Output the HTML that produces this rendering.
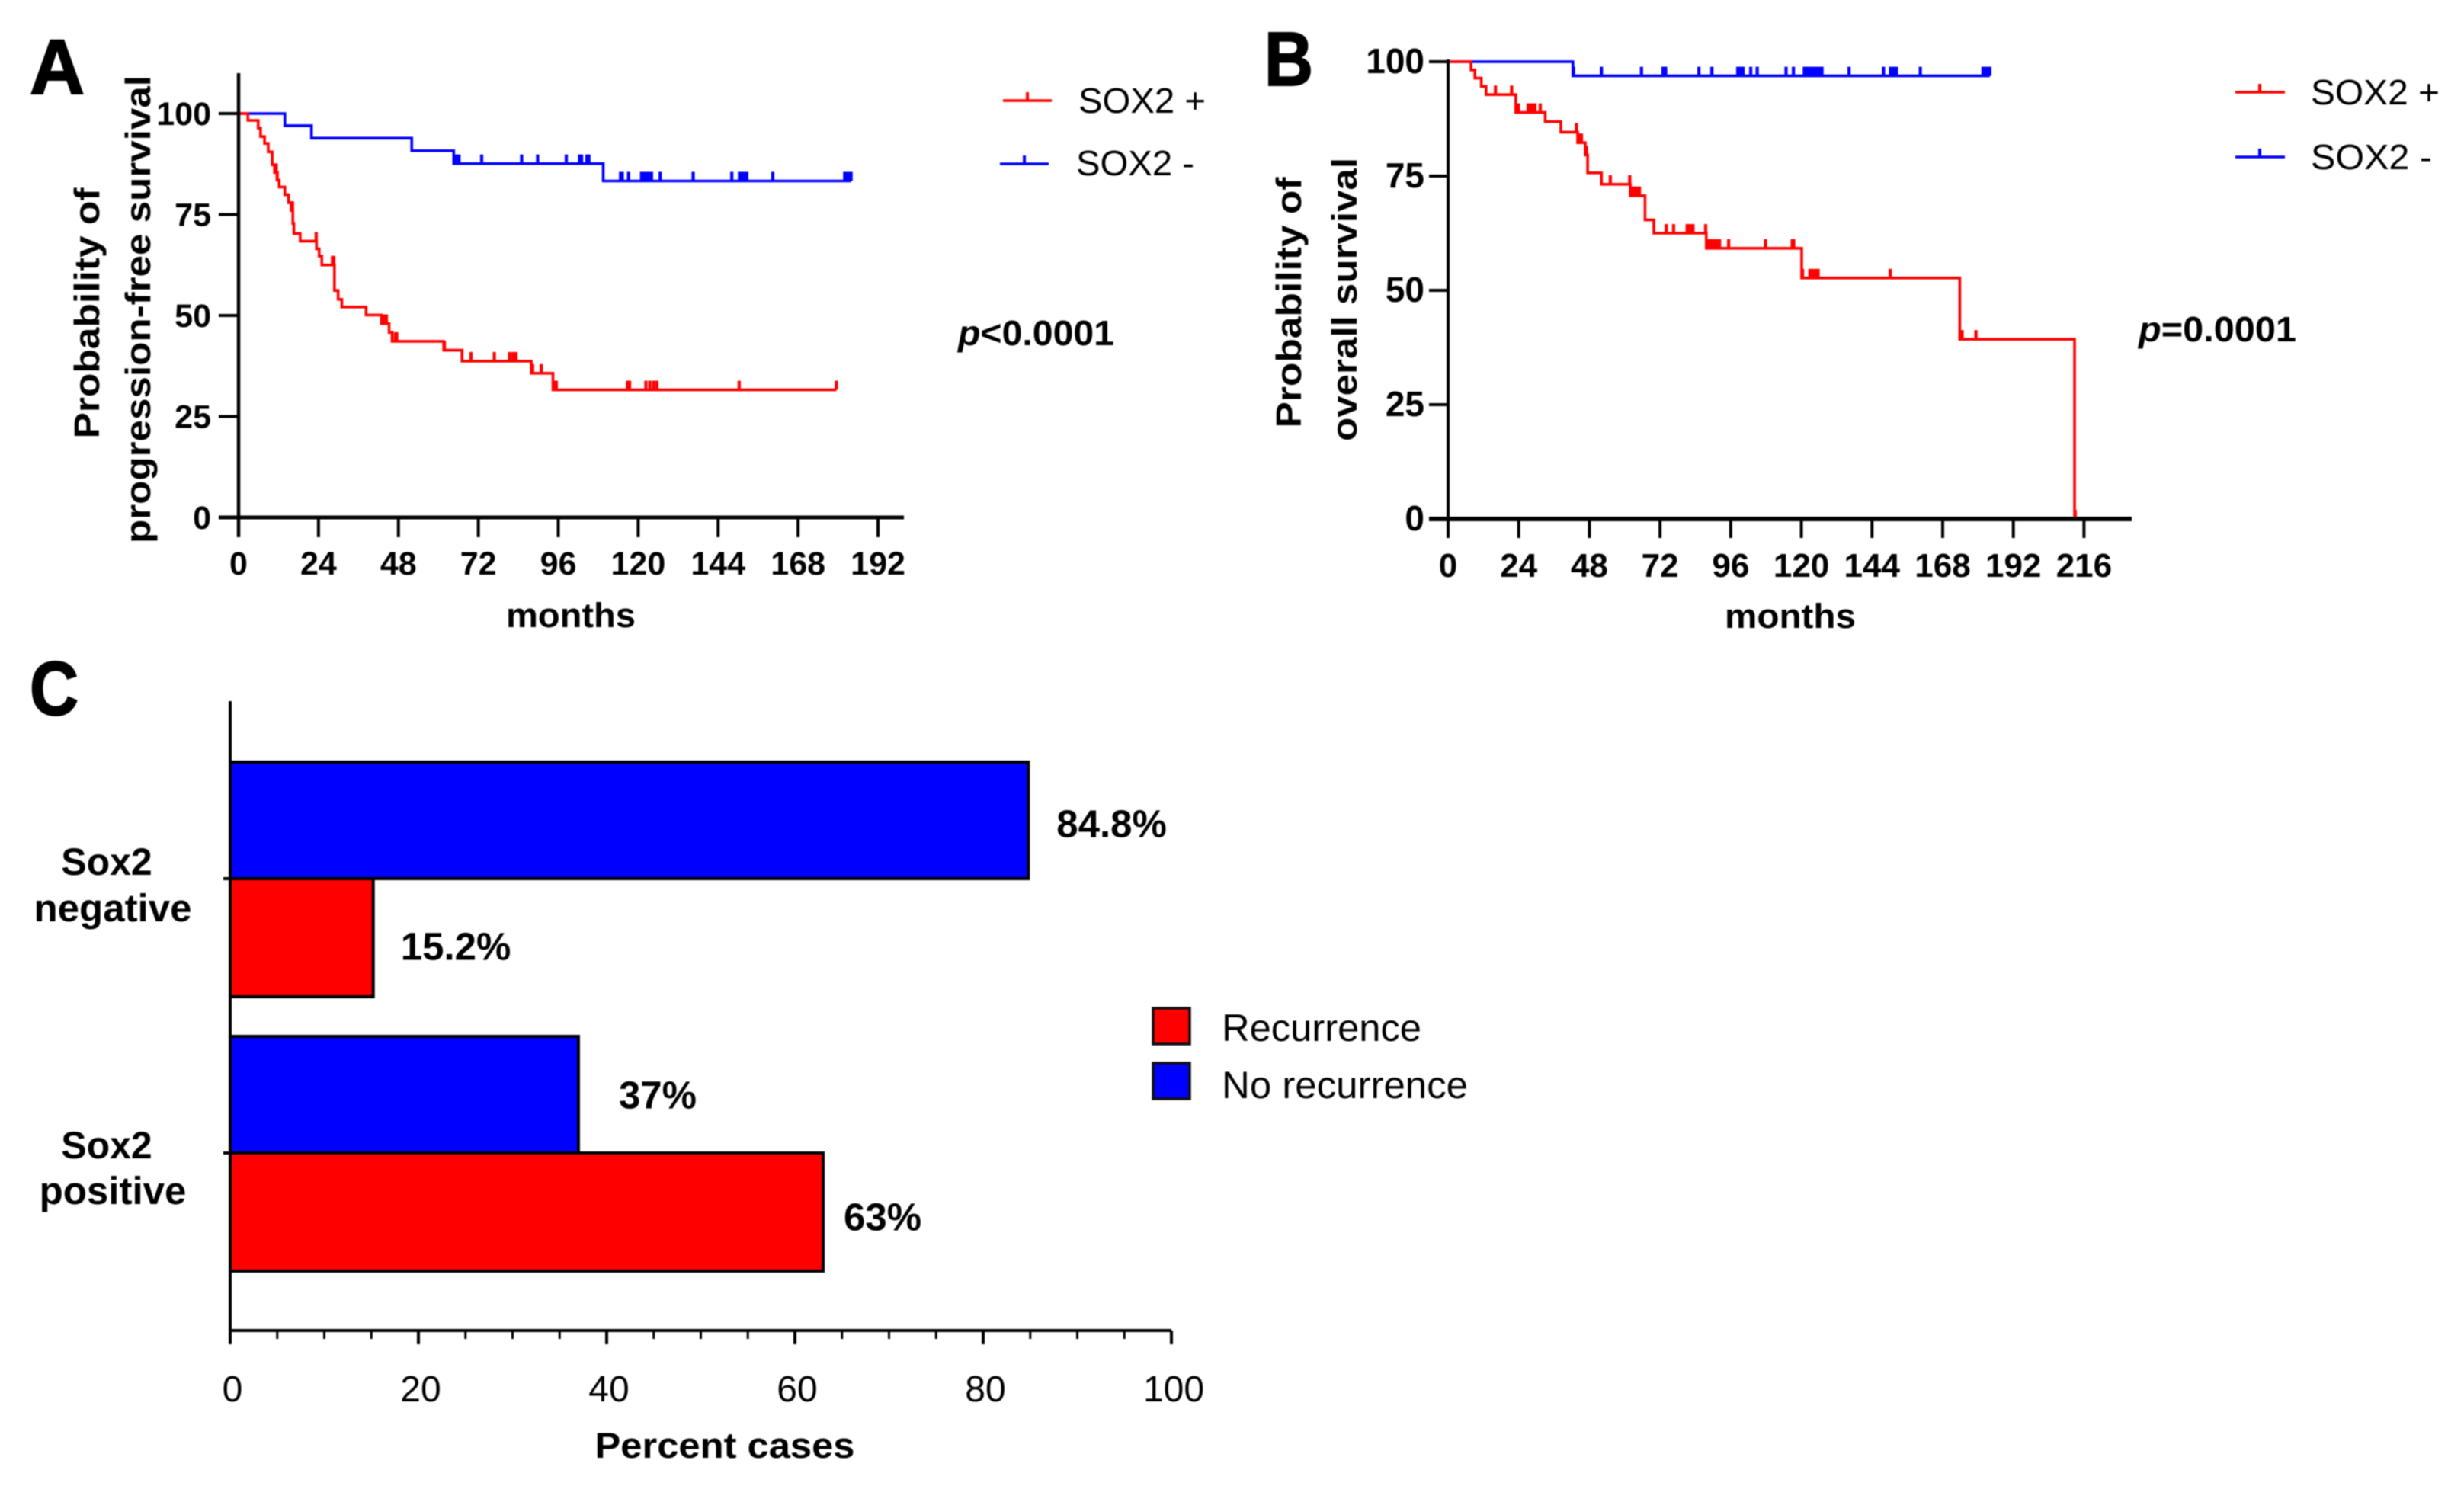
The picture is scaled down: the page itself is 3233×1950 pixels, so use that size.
<!DOCTYPE html>
<html lang="en">
<head>
<meta charset="utf-8">
<title>SOX2 survival and recurrence charts</title>
<style>
html,body{margin:0;padding:0;background:#fff;width:3233px;height:1950px;overflow:hidden}
svg{display:block;filter:blur(0.8px)}
text{font-family:"Liberation Sans",Arial,sans-serif;fill:#000}
.b{font-weight:700}
.letter{stroke:#000;stroke-width:2px}
</style>
</head>
<body>
<svg id="figure" xmlns="http://www.w3.org/2000/svg" width="3233" height="1950" viewBox="0 0 3233 1950">
  <rect width="3233" height="1950" fill="#fff"/>

  <g id="panelA">
    <text class="b letter" x="39" y="123" font-size="102" textLength="72" lengthAdjust="spacingAndGlyphs">A</text>
    <text class="b" font-size="46" text-anchor="middle" transform="translate(130 411) rotate(-90)" textLength="329" lengthAdjust="spacingAndGlyphs">Probability of</text>
    <text class="b" font-size="46" text-anchor="middle" transform="translate(197 406) rotate(-90)" textLength="614" lengthAdjust="spacingAndGlyphs">progression-free survival</text>
    <text class="b" x="749" y="823" font-size="45" text-anchor="middle" textLength="170" lengthAdjust="spacingAndGlyphs">months</text>
    <text class="b" x="1257" y="453" font-size="46" textLength="205" lengthAdjust="spacingAndGlyphs"><tspan font-style="italic">p</tspan>&lt;0.0001</text>
    <g>
      <line x1="1316" x2="1380" y1="132" y2="132" stroke="#f00" stroke-width="3.5"/>
      <line x1="1348" x2="1348" y1="132" y2="121" stroke="#f00" stroke-width="4"/>
      <text x="1415" y="148" font-size="46" textLength="167" lengthAdjust="spacingAndGlyphs">SOX2 +</text>
    </g>
    <g>
      <line x1="1312" x2="1376" y1="215" y2="215" stroke="#00f" stroke-width="3.5"/>
      <line x1="1344" x2="1344" y1="215" y2="204" stroke="#00f" stroke-width="4"/>
      <text x="1412" y="230" font-size="46" textLength="155" lengthAdjust="spacingAndGlyphs">SOX2 -</text>
    </g>
  </g>

  <g id="panelB">
    <text class="b letter" x="1659" y="112" font-size="100" textLength="64" lengthAdjust="spacingAndGlyphs">B</text>
    <text class="b" font-size="46" text-anchor="middle" transform="translate(1707 397) rotate(-90)" textLength="329" lengthAdjust="spacingAndGlyphs">Probability of</text>
    <text class="b" font-size="46" text-anchor="middle" transform="translate(1780 393) rotate(-90)" textLength="372" lengthAdjust="spacingAndGlyphs">overall survival</text>
    <text class="b" x="2349" y="824" font-size="45" text-anchor="middle" textLength="172" lengthAdjust="spacingAndGlyphs">months</text>
    <text class="b" x="2806" y="448" font-size="46" textLength="207" lengthAdjust="spacingAndGlyphs"><tspan font-style="italic">p</tspan>=0.0001</text>
    <g>
      <line x1="2933" x2="2998" y1="121" y2="121" stroke="#f00" stroke-width="3.5"/>
      <line x1="2965" x2="2965" y1="121" y2="110" stroke="#f00" stroke-width="4"/>
      <text x="3032" y="137" font-size="46" textLength="169" lengthAdjust="spacingAndGlyphs">SOX2 +</text>
    </g>
    <g>
      <line x1="2933" x2="2998" y1="206" y2="206" stroke="#00f" stroke-width="3.5"/>
      <line x1="2965" x2="2965" y1="206" y2="195" stroke="#00f" stroke-width="4"/>
      <text x="3032" y="222" font-size="46" textLength="159" lengthAdjust="spacingAndGlyphs">SOX2 -</text>
    </g>
  </g>

  <g id="panelC">
    <text class="b letter" x="39" y="938" font-size="100" textLength="64" lengthAdjust="spacingAndGlyphs">C</text>
    <text class="b" x="951" y="1913" font-size="47" text-anchor="middle" textLength="341" lengthAdjust="spacingAndGlyphs">Percent cases</text>
    <g>
      <rect x="1513" y="1323" width="48" height="47" fill="#f00" stroke="#111" stroke-width="3.5"/>
      <text x="1603" y="1366" font-size="50" textLength="262" lengthAdjust="spacingAndGlyphs">Recurrence</text>
    </g>
    <g>
      <rect x="1513" y="1395" width="48" height="47" fill="#00f" stroke="#111" stroke-width="3.5"/>
      <text x="1603" y="1441" font-size="50" textLength="323" lengthAdjust="spacingAndGlyphs">No recurrence</text>
    </g>
  </g>
</svg>

<script>
// Panel A: progression-free survival
const monthTicksA = [0, 24, 48, 72, 96, 120, 144, 168, 192];
const percentTicksA = [0, 25, 50, 75, 100];
const redStepMonthsA = [2.8, 5.9, 6.6, 7.8, 8.9, 10.1, 10.8, 11.6, 12.2, 13.9, 15, 15.8, 16.3, 16.6, 18.5, 23.4, 24.2, 25, 28.8, 29.9, 31, 38.3, 42.9, 45.2, 46.1, 61.6, 67.1, 87.9, 94.4];
const redStepSurvivalA = [98.3, 96.4, 94.3, 92.6, 90.5, 87.3, 85.4, 83.5, 81.8, 79.9, 77.9, 76, 72.8, 70.3, 68.4, 66.5, 64.7, 62.5, 56.2, 54, 52.1, 50.1, 48, 45.8, 43.6, 41.4, 38.7, 35.7, 31.6];
const redCensorMonthsA = [11, 11.3, 11.6, 15.9, 16.2, 23.3, 28.2, 28.6, 43.5, 44.4, 47.1, 47.5, 61.8, 69.8, 76.8, 81.4, 82.4, 83.3, 88.3, 90.9, 95, 95.4, 116.8, 117.4, 122.3, 123.5, 124.6, 125.6, 150.3, 179.5];
const blueStepMonthsA = [13.9, 21.9, 52, 64.6, 109.5];
const blueStepSurvivalA = [97, 93.9, 90.8, 87.6, 83.3];
const blueCensorMonthsA = [65.4, 66.2, 73, 85, 89.8, 98.4, 102.4, 103, 104.6, 105.2, 114.7, 115.2, 117.1, 121, 121.7, 122.4, 123.2, 124, 126.6, 136.5, 148.1, 150.4, 151.2, 152, 152.6, 160.4, 182, 182.7, 183.4, 183.9];

// Panel B: overall survival
const monthTicksB = [0, 24, 48, 72, 96, 120, 144, 168, 192, 216];
const percentTicksB = [0, 25, 50, 75, 100];
const redStepMonthsB = [7.8, 9.1, 11.3, 12.9, 23, 33, 38.3, 44, 46.6, 47.4, 52.1, 61.9, 66.9, 69.9, 87.7, 120.1, 173.8, 212.8];
const redStepSurvivalB = [98.2, 96.4, 94.6, 92.8, 88.9, 86.9, 84.6, 82.3, 79.6, 75.7, 73.2, 70.7, 65.4, 62.5, 59.2, 52.7, 39.3, 0];
const redCensorMonthsB = [16.1, 21.6, 23.9, 27.2, 27.9, 28.6, 29.5, 31.3, 43.6, 44.2, 44.8, 45.3, 47, 55.1, 61.7, 62.3, 63.2, 64.1, 65, 74.1, 76.6, 81.2, 82.2, 83.2, 87.5, 88.2, 89.2, 90.2, 91.2, 92.2, 95.3, 107.8, 116.9, 117.4, 120.4, 122.9, 123.9, 124.9, 125.7, 150.2, 173.9, 174.6, 179.3, 213];
const blueStepMonthsB = [42.4];
const blueStepSurvivalB = [96.9];
const blueCensorMonthsB = [42.6, 52.1, 65.7, 73, 73.5, 73.9, 85.2, 89.6, 98.4, 99.4, 100.2, 102.8, 105, 114.8, 117.3, 121, 122, 123, 124, 125, 126, 127, 136.2, 147.9, 150.3, 151.3, 152.3, 160.4, 181.7, 182.5, 183.5, 184];

// Panel C: recurrence percentages
const barCategories = [['Sox2', 'negative'], ['Sox2', 'positive']];
const noRecurrenceValues = [84.8, 37];
const recurrenceValues = [15.2, 63];
const percentTicksC = [0, 20, 40, 60, 80, 100];
const minorTicksC = [5, 10, 15, 25, 30, 35, 45, 50, 55, 65, 70, 75, 85, 90, 95];

const NS = 'http://www.w3.org/2000/svg';
function make(parent, tag, attrs, content) {
  const el = document.createElementNS(NS, tag);
  for (const k in attrs) el.setAttribute(k, attrs[k]);
  if (content !== undefined) el.textContent = content;
  parent.appendChild(el);
  return el;
}
function survivalAt(months, survival, t) {
  let s = 100;
  for (let i = 0; i < months.length; i++) if (months[i] <= t) s = survival[i];
  return s;
}
function stepPath(x, y, months, survival, end) {
  let d = 'M' + x(0) + ' ' + y(100);
  for (let i = 0; i < months.length; i++) d += 'H' + x(months[i]) + 'V' + y(survival[i]);
  return d + 'H' + x(end);
}
function drawCurve(panel, x, y, months, survival, censors, color) {
  const g = make(panel, 'g', {});
  
  
  const end = Math.max.apply(null, censors);
  const path = make(g, 'path', {d: stepPath(x, y, months, survival, end), fill: 'none', stroke: color, 'stroke-width': 3.6, 'stroke-linejoin': 'miter'});
  
  
  censors.forEach(function (t) {
    const level = survivalAt(months, survival, t);
    const tick = make(g, 'line', {x1: x(t), x2: x(t), y1: y(level), y2: y(level) - 12, stroke: color, 'stroke-width': 4.2});
    
    
  });
}
function drawSurvivalAxes(panel, o) {
  const x = o.x, y = o.y;
  const yAxis = make(panel, 'line', {x1: x(0), x2: x(0), y1: o.yTop, y2: y(0) + o.tickLen, stroke: '#000', 'stroke-width': o.yWidth});
  
  
  const xAxis = make(panel, 'line', {x1: x(0) - o.tickLen, x2: o.xEnd, y1: y(0), y2: y(0), stroke: '#000', 'stroke-width': o.xWidth});
  
  
  o.xTicks.forEach(function (t) {
    const tick = make(panel, 'line', {x1: x(t), x2: x(t), y1: y(0), y2: y(0) + o.tickLen, stroke: '#000', 'stroke-width': 4});
    
    
    const label = make(panel, 'text', {x: x(t), y: y(0) + o.xLabelDy, 'font-size': o.xFont, 'font-weight': 700, 'text-anchor': 'middle'}, t);
    
    
  });
  o.yTicks.forEach(function (v) {
    const tick = make(panel, 'line', {x1: x(0) - o.tickLen, x2: x(0), y1: y(v), y2: y(v), stroke: '#000', 'stroke-width': 4});
    
    
    const label = make(panel, 'text', {x: x(0) - o.yLabelGap, y: y(v) + 15, 'font-size': o.yFont, 'font-weight': 700, 'text-anchor': 'end'}, v);
    
    
  });
}

// Panel A
const panelA = document.getElementById('panelA');
const xA = function (m) { return 313 + m * 4.37; };
const yA = function (p) { return 679 - p * 5.3; };
drawCurve(panelA, xA, yA, blueStepMonthsA, blueStepSurvivalA, blueCensorMonthsA, '#00f');
drawCurve(panelA, xA, yA, redStepMonthsA, redStepSurvivalA, redCensorMonthsA, '#f00');
drawSurvivalAxes(panelA, {x: xA, y: yA, yTop: 96, xEnd: 1186, tickLen: 26, yWidth: 4.5, xWidth: 5, xTicks: monthTicksA, yTicks: percentTicksA, xLabelDy: 75, xFont: 43, yFont: 43, yLabelGap: 36});

// Panel B
const panelB = document.getElementById('panelB');
const xB = function (m) { return 1900 + m * 3.863; };
const yB = function (p) { return 681 - p * 6; };
drawCurve(panelB, xB, yB, blueStepMonthsB, blueStepSurvivalB, blueCensorMonthsB, '#00f');
drawCurve(panelB, xB, yB, redStepMonthsB, redStepSurvivalB, redCensorMonthsB, '#f00');
drawSurvivalAxes(panelB, {x: xB, y: yB, yTop: 78, xEnd: 2797, tickLen: 25, yWidth: 4, xWidth: 6, xTicks: monthTicksB, yTicks: percentTicksB, xLabelDy: 76, xFont: 44, yFont: 46, yLabelGap: 31});

// Panel C
const panelC = document.getElementById('panelC');
const xC = function (v) { return 302 + v * 12.35; };
const catY = function (i) { return 1153 + 360 * i; };
const BAR_H = 155;
const BLUE_H = 153;
barCategories.forEach(function (lines, i) {
  const cy = catY(i);
  const blue = make(panelC, 'rect', {x: xC(0), y: cy - BLUE_H, width: xC(noRecurrenceValues[i]) - xC(0), height: BLUE_H, fill: '#00f', stroke: '#000', 'stroke-width': 4});
  
  
  const red = make(panelC, 'rect', {x: xC(0), y: cy, width: xC(recurrenceValues[i]) - xC(0), height: BAR_H, fill: '#f00', stroke: '#000', 'stroke-width': 4});
  
  
  const blueLabel = make(panelC, 'text', {x: xC(noRecurrenceValues[i]) + (i === 0 ? 37 : 53), y: cy - BAR_H / 2 + (i === 0 ? 23 : 19), 'font-size': 51, 'font-weight': 700}, noRecurrenceValues[i] + '%');
  
  
  const redLabel = make(panelC, 'text', {x: xC(recurrenceValues[i]) + (i === 0 ? 36 : 27), y: cy + BAR_H / 2 + (i === 0 ? 29 : 24), 'font-size': 51, 'font-weight': 700}, recurrenceValues[i] + '%');
  
  
  const catTick = make(panelC, 'line', {x1: 293, x2: xC(0), y1: cy, y2: cy, stroke: '#000', 'stroke-width': 4});
  
  
  const line1 = make(panelC, 'text', {x: 140, y: cy + (i === 0 ? -5 : 7), 'font-size': 50, 'font-weight': 700, 'text-anchor': 'middle'}, lines[0]);
  
  
  const line2 = make(panelC, 'text', {x: 148, y: cy + (i === 0 ? 56 : 67), 'font-size': 51, 'font-weight': 700, 'text-anchor': 'middle'}, lines[1]);
  
  
});
const yAxisC = make(panelC, 'line', {x1: xC(0), x2: xC(0), y1: 920, y2: 1764, stroke: '#000', 'stroke-width': 4});


const xAxisC = make(panelC, 'line', {x1: xC(0), x2: xC(100), y1: 1746, y2: 1746, stroke: '#000', 'stroke-width': 4});


percentTicksC.forEach(function (v) {
  const tick = make(panelC, 'line', {x1: xC(v), x2: xC(v), y1: 1746, y2: 1764, stroke: '#000', 'stroke-width': 4});
  
  
  const label = make(panelC, 'text', {x: xC(v) + 3, y: 1839, 'font-size': 48, 'text-anchor': 'middle'}, v);
  
  
});
minorTicksC.forEach(function (v) {
  const tick = make(panelC, 'line', {x1: xC(v), x2: xC(v), y1: 1746, y2: 1757, stroke: '#000', 'stroke-width': 3});
  
  
});
</script>
</body>
</html>
